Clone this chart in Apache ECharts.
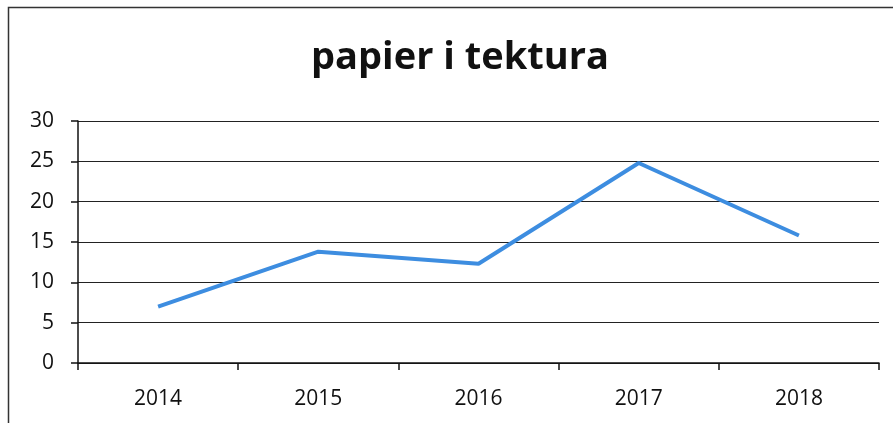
<!DOCTYPE html>
<html>
<head>
<meta charset="utf-8">
<script src="https://cdn.jsdelivr.net/npm/echarts@6/dist/echarts.min.js"></script>
<style>
  html, body { margin: 0; padding: 0; background: #fff; }
  #chart { width: 893px; height: 423px; }
</style>
</head>
<body>
<div id="chart"></div>
<script>
const years = ['2014', '2015', '2016', '2017', '2018']
const values = [7, 13.8, 12.3, 24.8, 15.8]
const yTicks = { min: 0, max: 30, step: 5 }

const myChart = echarts.init(document.getElementById('chart'))

const option = {
  animation: false,
  title: {
    text: 'papier i tektura',
    left: 455,
    top: 34,
    textAlign: 'center',
    textStyle: {
      fontFamily: 'Open Sans',
      fontWeight: 'bold',
      fontSize: 38,
      color: '#111'
    }
  },
  // ramka wykresu
  graphic: [
    {
      type: 'rect',
      shape: { x: 8.5, y: 7.5, width: 900, height: 430 },
      style: { fill: 'none', stroke: '#333', lineWidth: 1.5 }
    }
  ],
  grid: {
    left: 78,
    right: 14,
    top: 121,
    bottom: 60
  },
  xAxis: {
    type: 'category',
    data: years,
    boundaryGap: true,
    axisLine: { lineStyle: { color: '#111', width: 1.5 } },
    axisTick: { show: true, length: 7, lineStyle: { color: '#111', width: 1.5 } },
    axisLabel: {
      fontFamily: 'Open Sans',
      fontSize: 21,
      color: '#111',
      margin: 26
    }
  },
  yAxis: {
    type: 'value',
    min: yTicks.min,
    max: yTicks.max,
    interval: yTicks.step,
    axisLine: { show: true, lineStyle: { color: '#111', width: 1.5 } },
    axisTick: { show: true, length: 7, lineStyle: { color: '#111', width: 1.5 } },
    axisLabel: {
      fontFamily: 'Open Sans',
      fontSize: 21,
      color: '#111',
      margin: 24
    },
    splitLine: { lineStyle: { color: '#222', width: 1.2 } }
  },
  series: [
    {
      name: 'papier i tektura',
      type: 'line',
      data: values,
      symbol: 'none',
      lineStyle: { color: '#3d8de0', width: 4 }
    }
  ]
}

myChart.setOption(option)
</script>
</body>
</html>
